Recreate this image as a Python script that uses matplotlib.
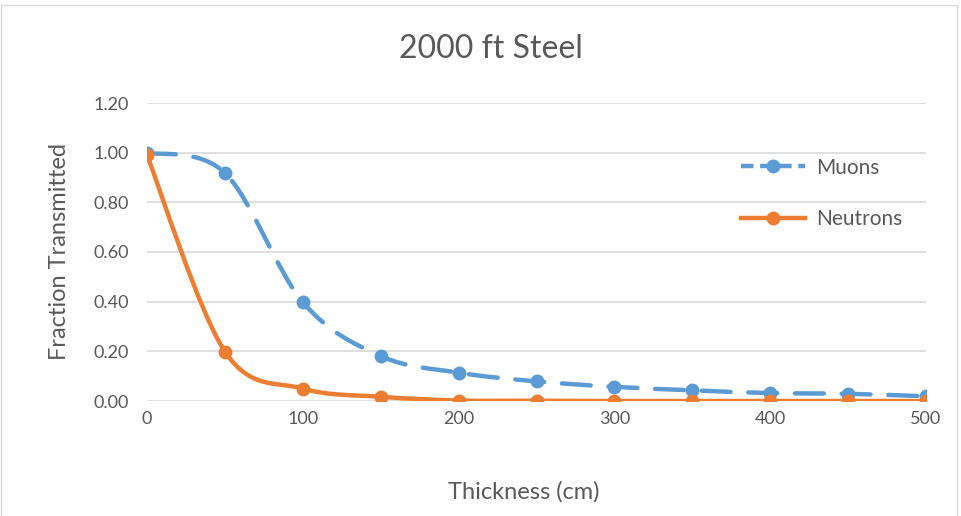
import numpy as np
import matplotlib
matplotlib.use("Agg")
from matplotlib import pyplot as plt
from matplotlib.path import Path
from matplotlib.patches import PathPatch, Rectangle
from matplotlib.lines import Line2D

plt.rcParams['font.family'] = ['Lato', 'DejaVu Sans']

thickness = [0, 50, 100, 150, 200, 250, 300, 350, 400, 450, 500]
muons = [1.00, 0.918, 0.398, 0.181, 0.114, 0.079, 0.057, 0.043, 0.032, 0.029, 0.019]
neutrons = [0.99, 0.199, 0.050, 0.017, 0.002, 0.001, 0.0, 0.0, 0.0, 0.0, 0.0]

blue = '#5B9BD5'
orange = '#ED7D31'
grey_txt = '#595959'


def smooth_path(x, y):
    # cardinal spline through the points, built from cubic bezier segments
    pts = np.column_stack([x, y]).astype(float)
    n = len(pts)
    verts = [pts[0]]
    codes = [Path.MOVETO]
    for i in range(n - 1):
        p0 = pts[max(i - 1, 0)]
        p1 = pts[i]
        p2 = pts[i + 1]
        p3 = pts[min(i + 2, n - 1)]
        c1 = p1 + (p2 - p0) / 6.0
        c2 = p2 - (p3 - p1) / 6.0
        verts += [c1, c2, p2]
        codes += [Path.CURVE4] * 3
    return Path(verts, codes)


fig = plt.figure(figsize=(9.61, 5.16), dpi=100)
ax = fig.add_axes([147 / 961, 1 - 401 / 516, (926 - 147) / 961, (401 - 103) / 516])

# chart border
fig.patches.append(Rectangle((1 / 961, -0.01), 956 / 961, 1.0, transform=fig.transFigure,
                             fill=False, edgecolor='#d9d9d9', linewidth=1))

for vals, col, ls in [(muons, blue, (0, (6.5, 4.0))), (neutrons, orange, '-')]:
    patch = PathPatch(smooth_path(thickness, vals), facecolor='none', edgecolor=col,
                      linewidth=3.2, linestyle=ls, capstyle='round', zorder=3)
    ax.add_patch(patch)
    ax.plot(thickness, vals, 'o', color=col, markersize=9, zorder=4)

ax.set_xlim(0, 500)
ax.set_ylim(0, 1.2)
ax.set_yticks(np.arange(0, 1.21, 0.2))
ax.set_yticklabels(['%.2f' % v for v in np.arange(0, 1.21, 0.2)])
ax.set_xticks(range(0, 501, 100))
ax.grid(axis='y', color='#d9d9d9', linewidth=1.2)
ax.set_axisbelow(True)
for s in ax.spines.values():
    s.set_visible(False)
ax.tick_params(length=0, labelsize=13, labelcolor=grey_txt, pad=7)
ax.tick_params(axis='y', pad=13)

fig.text(491 / 961, 1 - 49 / 516, '2000 ft Steel', ha='center', va='center', fontsize=23, color=grey_txt)
fig.text(59 / 961, 1 - 252 / 516, 'Fraction Transmitted', rotation=90, ha='center', va='center',
         fontsize=17, color=grey_txt)
fig.text(524 / 961, 1 - 492 / 516, 'Thickness (cm)', ha='center', va='center', fontsize=17, color=grey_txt)

handles = [Line2D([], [], color=blue, lw=3.2, ls=(0, (2.8, 1.5)), marker='o', markersize=9),
           Line2D([], [], color=orange, lw=3.2, marker='o', markersize=9)]
leg = ax.legend(handles, ['Muons', 'Neutrons'], loc='upper left',
                bbox_to_anchor=(726 / 961, 1 - 143 / 516), bbox_transform=fig.transFigure,
                frameon=False, fontsize=15, handlelength=3.1, handletextpad=0.55,
                labelspacing=1.5, borderpad=0.2)
for t in leg.get_texts():
    t.set_color(grey_txt)

fig.savefig('out.png', dpi=100, facecolor='white')
